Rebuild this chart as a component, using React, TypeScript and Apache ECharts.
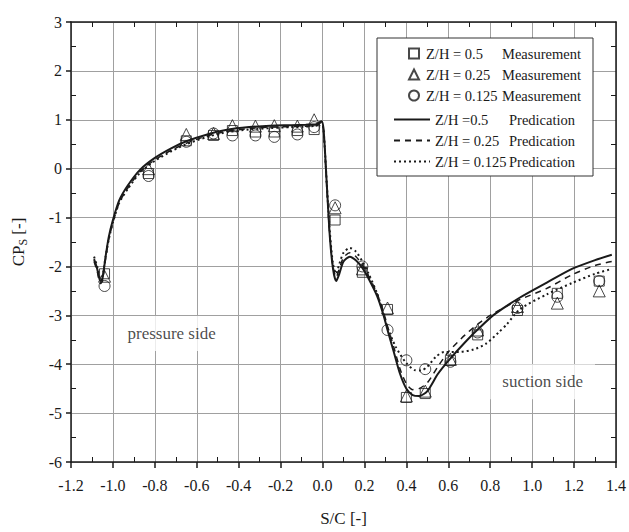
import React, { useEffect, useRef } from "react";
import * as echarts from "echarts";

const FONT = "Liberation Serif";

// Measurement positions (S/C) shared by the three measurement sets
const measX = [-1.04, -0.83, -0.65, -0.52, -0.43, -0.32, -0.23, -0.12, -0.04, 0.06, 0.19, 0.31, 0.4, 0.49, 0.61, 0.74, 0.93, 1.12, 1.32];
const meas05 = [-2.15, -0.1, 0.57, 0.68, 0.78, 0.75, 0.75, 0.78, 0.8, -1.05, -2.12, -2.88, -4.68, -4.6, -3.92, -3.4, -2.9, -2.55, -2.3];
const meas025 = [-2.2, 0.0, 0.7, 0.72, 0.88, 0.87, 0.88, 0.87, 1.0, -0.8, -2.05, -2.85, -4.65, -4.55, -3.9, -3.3, -2.82, -2.75, -2.5];
const meas0125 = [-2.4, -0.15, 0.55, 0.72, 0.68, 0.68, 0.65, 0.7, 0.85, -0.75, -2.0, -3.3, -3.92, -4.1, -3.95, -3.35, -2.85, -2.62, -2.3];

// Prediction curves
const predX05 = [-1.09, -1.075, -1.06, -1.05, -1.035, -1.02, -1.0, -0.97, -0.93, -0.87, -0.8, -0.72, -0.65, -0.55, -0.45, -0.35, -0.25, -0.15, -0.08, -0.03, -0.005, 0.005, 0.02, 0.035, 0.05, 0.065, 0.08, 0.1, 0.13, 0.16, 0.19, 0.22, 0.26, 0.29, 0.31, 0.34, 0.37, 0.4, 0.43, 0.46, 0.5, 0.55, 0.6, 0.68, 0.75, 0.82, 0.94, 1.07, 1.19, 1.3, 1.38];
const pred05 = [-1.85, -2.05, -2.3, -2.25, -1.8, -1.4, -1.05, -0.65, -0.35, -0.02, 0.22, 0.42, 0.56, 0.7, 0.8, 0.85, 0.88, 0.89, 0.9, 0.91, 0.97, 0.8, -0.3, -1.4, -2.05, -2.3, -2.15, -1.9, -1.8, -1.88, -2.03, -2.25, -2.6, -2.98, -3.3, -3.75, -4.2, -4.5, -4.63, -4.65, -4.55, -4.2, -3.93, -3.55, -3.25, -2.98, -2.64, -2.33, -2.05, -1.87, -1.76];
const predX025 = [-1.09, -1.075, -1.06, -1.05, -1.035, -1.02, -1.0, -0.97, -0.93, -0.87, -0.8, -0.72, -0.65, -0.55, -0.45, -0.35, -0.25, -0.15, -0.08, -0.03, -0.005, 0.005, 0.02, 0.035, 0.05, 0.065, 0.08, 0.1, 0.13, 0.16, 0.19, 0.22, 0.26, 0.29, 0.31, 0.34, 0.37, 0.4, 0.43, 0.46, 0.5, 0.55, 0.6, 0.68, 0.75, 0.82, 0.94, 1.07, 1.19, 1.3, 1.38];
const pred025 = [-1.9, -2.1, -2.35, -2.3, -1.85, -1.45, -1.1, -0.7, -0.4, -0.06, 0.18, 0.38, 0.52, 0.67, 0.77, 0.82, 0.85, 0.86, 0.87, 0.88, 0.95, 0.78, -0.35, -1.4, -2.0, -2.22, -2.05, -1.82, -1.72, -1.8, -1.97, -2.2, -2.55, -2.92, -3.22, -3.65, -4.1, -4.4, -4.52, -4.5, -4.38, -4.05, -3.75, -3.4, -3.15, -2.95, -2.68, -2.45, -2.17, -1.98, -1.9];
const predX0125 = [-1.09, -1.075, -1.06, -1.05, -1.035, -1.02, -1.0, -0.97, -0.93, -0.87, -0.8, -0.72, -0.65, -0.55, -0.45, -0.35, -0.25, -0.15, -0.08, -0.03, -0.005, 0.005, 0.02, 0.035, 0.05, 0.065, 0.08, 0.1, 0.13, 0.16, 0.19, 0.22, 0.26, 0.29, 0.31, 0.35, 0.4, 0.44, 0.47, 0.5, 0.54, 0.58, 0.65, 0.72, 0.78, 0.84, 0.88, 0.94, 1.07, 1.19, 1.3, 1.38];
const pred0125 = [-1.8, -2.0, -2.25, -2.2, -1.8, -1.45, -1.1, -0.7, -0.42, -0.08, 0.16, 0.36, 0.5, 0.65, 0.75, 0.8, 0.83, 0.85, 0.86, 0.88, 0.95, 0.78, -0.3, -1.3, -1.95, -2.15, -1.95, -1.72, -1.62, -1.7, -1.9, -2.15, -2.55, -2.95, -3.25, -3.65, -3.98, -4.12, -4.13, -4.05, -3.85, -3.75, -3.75, -3.7, -3.58, -3.35, -3.18, -2.88, -2.57, -2.34, -2.15, -2.05];

const measNames = ["Z/H = 0.5 Measurement", "Z/H = 0.25 Measurement", "Z/H = 0.125 Measurement"];
const predNames = ["Z/H =0.5 Predication", "Z/H = 0.25 Predication", "Z/H = 0.125 Predication"];

const annotations = [
  { text: "pressure side", x: -0.72, y: -3.37 },
  { text: "suction side", x: 1.05, y: -4.36 },
];

const zip = (xs: number[], ys: number[]) => xs.map((x, i) => [x, ys[i]]);

export default function App() {
  const ref = useRef<HTMLDivElement>(null);
  useEffect(() => {
    if (!ref.current) return;
    document.body.style.margin = "0";
    document.body.style.overflow = "hidden";
    const chart = echarts.init(ref.current, null, { renderer: "svg" });
    const ink = "#1a1a1a";
    const gridColor = "#a0a0a0";
    const common = { min: -1.2, max: 1.4, interval: 0.2 };
    const commonY = { min: -6, max: 3, interval: 1 };
    const minor = { show: true, splitNumber: 2, length: 5, lineStyle: { color: ink, width: 1 } };
    const markerStyle = { color: "transparent", borderColor: ink, borderWidth: 1 };
    const legendFormatter = (name: string) => {
      const i = name.lastIndexOf(" ");
      return `{a|${name.slice(0, i)} }{b|${name.slice(i + 1)}}`;
    };
    const legendText = (padLeft: number, w: number) => ({
      fontFamily: FONT,
      fontSize: 14.5,
      color: ink,
      rich: {
        a: { fontFamily: FONT, fontSize: 14.5, color: ink, width: w, lineHeight: 14, padding: [0, 0, 0, padLeft] },
        b: { fontFamily: FONT, fontSize: 14.5, color: ink, lineHeight: 14 },
      },
    });
    const option: any = {
      animation: false,
      backgroundColor: "#fff",
      grid: { left: 71, right: 12, top: 22, bottom: 65 },
      legend: [
        {
          data: measNames,
          orient: "vertical",
          left: 403,
          top: 41,
          itemWidth: 10,
          itemHeight: 10,
          itemGap: 6,
          selectedMode: false,
          z: 10,
          formatter: legendFormatter,
          textStyle: legendText(2, 76),
        },
        {
          data: predNames.map((n) => ({ name: n, itemStyle: { opacity: 0 } })),
          orient: "vertical",
          left: 388,
          top: 107,
          itemWidth: 36,
          itemHeight: 12,
          itemGap: 6,
          selectedMode: false,
          z: 10,
          formatter: legendFormatter,
          textStyle: legendText(0, 74),
        },
      ],
      graphic: [
        {
          type: "rect",
          z: 5,
          shape: { x: 377, y: 38, width: 216, height: 138 },
          style: { fill: "#fff", stroke: "#333", lineWidth: 1 },
        },
      ],
      xAxis: [
        {
          type: "value",
          position: "bottom",
          ...common,
          name: "S/C [-]",
          nameLocation: "middle",
          nameGap: 48,
          nameTextStyle: { fontFamily: FONT, fontSize: 17, color: ink },
          axisLine: { show: true, onZero: false, lineStyle: { color: ink, width: 1.5 } },
          axisTick: { show: true, length: 6, lineStyle: { color: ink, width: 1.5 } },
          axisLabel: {
            fontFamily: FONT,
            fontSize: 16,
            color: ink,
            margin: 15,
            formatter: (v: number) => v.toFixed(1),
          },
          splitLine: { show: true, lineStyle: { color: gridColor, width: 1 } },
        },
        {
          type: "value",
          position: "bottom",
          ...common,
          axisLine: { show: false, onZero: false },
          axisTick: { show: false, inside: true },
          minorTick: minor,
          axisLabel: { show: false },
          splitLine: { show: false },
        },
        {
          type: "value",
          position: "top",
          ...common,
          axisLine: { show: true, onZero: false, lineStyle: { color: ink, width: 1.5 } },
          axisTick: { show: false, inside: true },
          minorTick: minor,
          axisLabel: { show: false },
          splitLine: { show: false },
        },
      ],
      yAxis: [
        {
          type: "value",
          position: "left",
          ...commonY,
          name: "{a|CP}{b|S}{a| [-]}",
          nameLocation: "middle",
          nameGap: 42,
          nameRotate: 90,
          nameTextStyle: {
            rich: {
              a: { fontFamily: FONT, fontSize: 17, color: ink, lineHeight: 22 },
              b: { fontFamily: FONT, fontSize: 12, color: ink, lineHeight: 12, verticalAlign: "bottom" },
            },
          },
          axisLine: { show: true, onZero: false, lineStyle: { color: ink, width: 1.5 } },
          axisTick: { show: true, length: 5, lineStyle: { color: ink, width: 1.5 } },
          axisLabel: { fontFamily: FONT, fontSize: 16, color: ink, margin: 9 },
          splitLine: { show: true, lineStyle: { color: gridColor, width: 1 } },
        },
        {
          type: "value",
          position: "left",
          ...commonY,
          axisLine: { show: false, onZero: false },
          axisTick: { show: false, inside: true },
          minorTick: minor,
          axisLabel: { show: false },
          splitLine: { show: false },
        },
        {
          type: "value",
          position: "right",
          ...commonY,
          axisLine: { show: true, onZero: false, lineStyle: { color: ink, width: 1.5 } },
          axisTick: { show: false, inside: true },
          minorTick: minor,
          axisLabel: { show: false },
          splitLine: { show: false },
        },
      ],
      series: [
        {
          name: measNames[0],
          type: "scatter",
          symbol: "rect",
          symbolSize: 10,
          itemStyle: markerStyle,
          data: zip(measX, meas05),
          z: 4,
        },
        {
          name: measNames[1],
          type: "scatter",
          symbol: "triangle",
          symbolSize: 12,
          itemStyle: markerStyle,
          data: zip(measX, meas025),
          z: 4,
        },
        {
          name: measNames[2],
          type: "scatter",
          symbol: "circle",
          symbolSize: 11,
          itemStyle: markerStyle,
          data: zip(measX, meas0125),
          z: 4,
        },
        {
          name: predNames[0],
          type: "line",
          showSymbol: false,
          symbol: "none",
          smooth: 0.25,
          lineStyle: { color: ink, width: 2, type: "solid" },
          itemStyle: { color: ink },
          data: zip(predX05, pred05),
        },
        {
          name: predNames[1],
          type: "line",
          showSymbol: false,
          symbol: "none",
          smooth: 0.25,
          lineStyle: { color: ink, width: 1.5, type: [6, 5] },
          itemStyle: { color: ink },
          data: zip(predX025, pred025),
        },
        {
          name: predNames[2],
          type: "line",
          showSymbol: false,
          symbol: "none",
          smooth: 0.25,
          lineStyle: { color: ink, width: 2, type: [2, 3] },
          itemStyle: { color: ink },
          data: zip(predX0125, pred0125),
        },
        {
          name: "annotations",
          type: "scatter",
          symbolSize: 0,
          silent: true,
          z: 6,
          data: annotations.map((a) => ({ value: [a.x, a.y], name: a.text })),
          label: {
            show: true,
            position: "inside",
            formatter: (p: any) => p.name,
            fontFamily: FONT,
            fontSize: 17,
            color: ink,
            backgroundColor: "#fff",
            padding: [9, 12],
          },
        },
      ],
    };
    chart.setOption(option);
    return () => chart.dispose();
  }, []);
  return <div ref={ref} style={{ position: "fixed", left: 0, top: 0, width: 629, height: 532 }} />;
}
